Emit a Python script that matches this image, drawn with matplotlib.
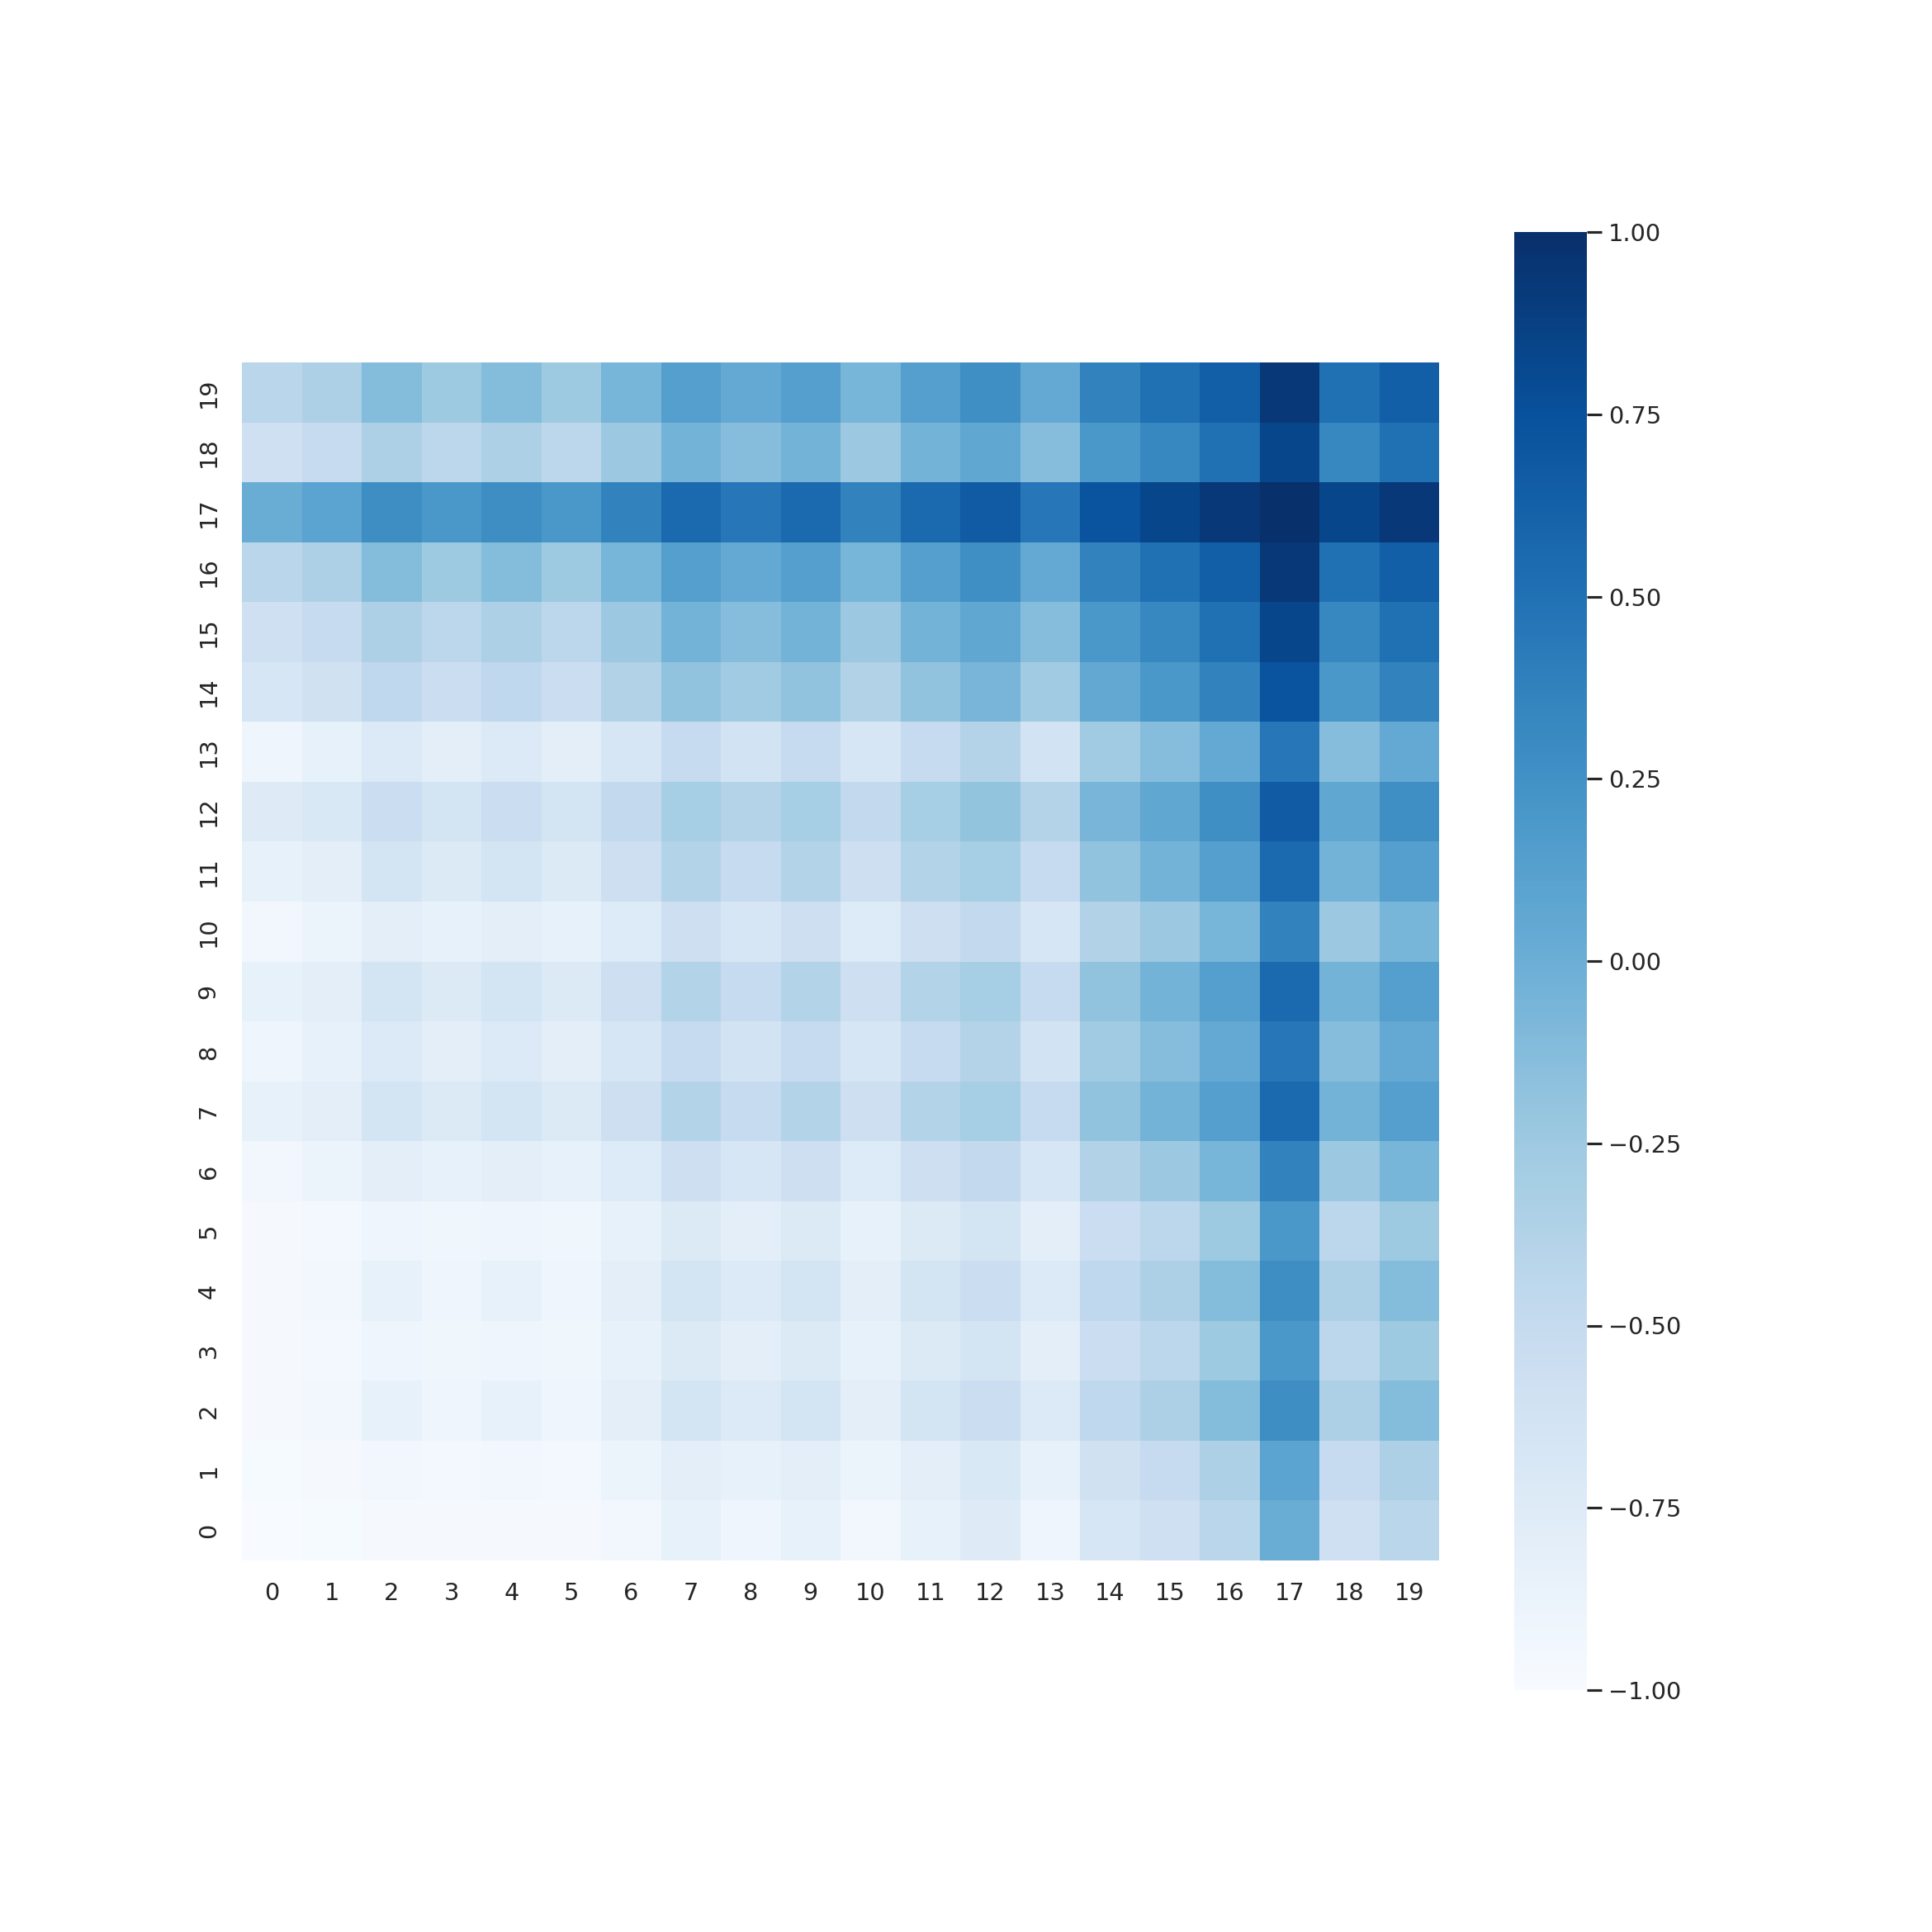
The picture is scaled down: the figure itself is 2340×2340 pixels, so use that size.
import numpy as np
import matplotlib
matplotlib.use("Agg")
import matplotlib.pyplot as plt
import seaborn as sns

# values, row i = y label i, column j = x label j
row_0 = [-1.00, -0.98, -0.97, -0.97, -0.97, -0.97, -0.93, -0.84, -0.90, -0.84, -0.93, -0.84, -0.75, -0.90, -0.67, -0.58, -0.42, 0.01, -0.58, -0.42]
row_1 = [-0.98, -0.97, -0.93, -0.96, -0.93, -0.96, -0.89, -0.80, -0.84, -0.80, -0.89, -0.80, -0.70, -0.84, -0.60, -0.50, -0.34, 0.10, -0.50, -0.34]
row_2 = [-0.97, -0.93, -0.84, -0.90, -0.84, -0.90, -0.80, -0.64, -0.72, -0.64, -0.80, -0.64, -0.55, -0.72, -0.46, -0.34, -0.12, 0.28, -0.34, -0.12]
row_3 = [-0.97, -0.96, -0.90, -0.92, -0.90, -0.92, -0.84, -0.73, -0.80, -0.73, -0.84, -0.73, -0.64, -0.80, -0.55, -0.43, -0.25, 0.20, -0.43, -0.25]
row_4 = [-0.97, -0.93, -0.84, -0.90, -0.84, -0.90, -0.80, -0.64, -0.72, -0.64, -0.80, -0.64, -0.55, -0.72, -0.46, -0.34, -0.12, 0.28, -0.34, -0.12]
row_5 = [-0.97, -0.96, -0.90, -0.92, -0.90, -0.92, -0.84, -0.73, -0.80, -0.73, -0.84, -0.73, -0.64, -0.80, -0.55, -0.43, -0.25, 0.20, -0.43, -0.25]
row_6 = [-0.93, -0.89, -0.80, -0.84, -0.80, -0.84, -0.74, -0.57, -0.67, -0.57, -0.74, -0.57, -0.48, -0.67, -0.37, -0.24, -0.06, 0.37, -0.24, -0.06]
row_7 = [-0.84, -0.80, -0.64, -0.73, -0.64, -0.73, -0.57, -0.38, -0.50, -0.38, -0.57, -0.38, -0.30, -0.50, -0.18, -0.04, 0.14, 0.56, -0.04, 0.14]
row_8 = [-0.90, -0.84, -0.72, -0.80, -0.72, -0.80, -0.67, -0.50, -0.62, -0.50, -0.67, -0.50, -0.39, -0.62, -0.27, -0.14, 0.04, 0.46, -0.14, 0.04]
row_9 = [-0.84, -0.80, -0.64, -0.73, -0.64, -0.73, -0.57, -0.38, -0.50, -0.38, -0.57, -0.38, -0.30, -0.50, -0.18, -0.04, 0.14, 0.56, -0.04, 0.14]
row_10 = [-0.93, -0.89, -0.80, -0.84, -0.80, -0.84, -0.74, -0.57, -0.67, -0.57, -0.74, -0.57, -0.48, -0.67, -0.37, -0.24, -0.06, 0.37, -0.24, -0.06]
row_11 = [-0.84, -0.80, -0.64, -0.73, -0.64, -0.73, -0.57, -0.38, -0.50, -0.38, -0.57, -0.38, -0.30, -0.50, -0.18, -0.04, 0.14, 0.56, -0.04, 0.14]
row_12 = [-0.75, -0.70, -0.55, -0.64, -0.55, -0.64, -0.48, -0.30, -0.39, -0.30, -0.48, -0.30, -0.19, -0.39, -0.07, 0.07, 0.27, 0.67, 0.07, 0.27]
row_13 = [-0.90, -0.84, -0.72, -0.80, -0.72, -0.80, -0.67, -0.50, -0.62, -0.50, -0.67, -0.50, -0.39, -0.62, -0.27, -0.14, 0.04, 0.46, -0.14, 0.04]
row_14 = [-0.67, -0.60, -0.46, -0.55, -0.46, -0.55, -0.37, -0.18, -0.27, -0.18, -0.37, -0.18, -0.07, -0.27, 0.05, 0.20, 0.37, 0.73, 0.20, 0.37]
row_15 = [-0.58, -0.50, -0.34, -0.43, -0.34, -0.43, -0.24, -0.04, -0.14, -0.04, -0.24, -0.04, 0.07, -0.14, 0.20, 0.33, 0.50, 0.83, 0.33, 0.50]
row_16 = [-0.42, -0.34, -0.12, -0.25, -0.12, -0.25, -0.06, 0.14, 0.04, 0.14, -0.06, 0.14, 0.27, 0.04, 0.37, 0.50, 0.64, 0.93, 0.50, 0.64]
row_17 = [0.01, 0.10, 0.28, 0.20, 0.28, 0.20, 0.37, 0.56, 0.46, 0.56, 0.37, 0.56, 0.67, 0.46, 0.73, 0.83, 0.93, 1.00, 0.83, 0.93]
row_18 = [-0.58, -0.50, -0.34, -0.43, -0.34, -0.43, -0.24, -0.04, -0.14, -0.04, -0.24, -0.04, 0.07, -0.14, 0.20, 0.33, 0.50, 0.83, 0.33, 0.50]
row_19 = [-0.42, -0.34, -0.12, -0.25, -0.12, -0.25, -0.06, 0.14, 0.04, 0.14, -0.06, 0.14, 0.27, 0.04, 0.37, 0.50, 0.64, 0.93, 0.50, 0.64]

labels = [str(i) for i in range(20)]
cbar_ticks = [-1.0, -0.75, -0.5, -0.25, 0.0, 0.25, 0.5, 0.75, 1.0]

data = np.array([row_0, row_1, row_2, row_3, row_4, row_5, row_6, row_7, row_8, row_9,
                 row_10, row_11, row_12, row_13, row_14, row_15, row_16, row_17, row_18, row_19])

sns.set_theme(style="white")

W = 2340
fig = plt.figure(figsize=(13, 13), dpi=180)
ax = fig.add_axes([293 / W, 1 - 1890 / W, 1450 / W, 1451 / W])
cax = fig.add_axes([1834 / W, 1 - 2047 / W, 88 / W, 1766 / W])

sns.heatmap(data, ax=ax, cbar_ax=cax, cmap="Blues", vmin=-1, vmax=1,
            xticklabels=labels, yticklabels=labels)
ax.invert_yaxis()
ax.tick_params(axis="both", labelsize=11.5, length=7, pad=3.5)
for t in ax.get_yticklabels():
    t.set_rotation(90)
for t in ax.get_xticklabels():
    t.set_rotation(0)

cax.set_yticks(cbar_ticks)
cax.set_yticklabels([f"{v:.2f}".replace("-", "\u2212") for v in cbar_ticks])
cax.tick_params(axis="y", labelsize=11.5, length=7, width=1.25, pad=3.5, right=True)

fig.savefig("out.png", dpi=180, facecolor="white")
